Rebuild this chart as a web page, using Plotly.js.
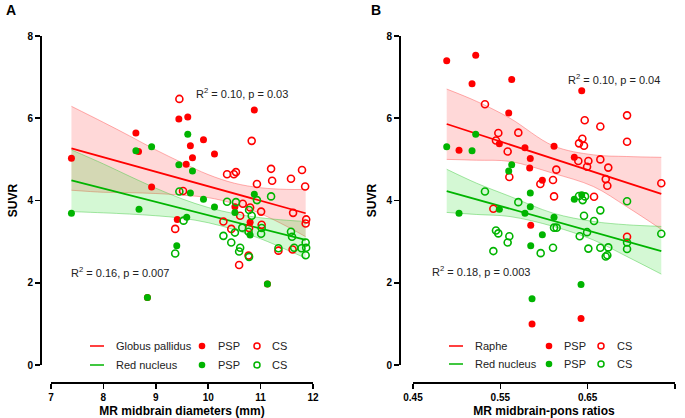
<!DOCTYPE html>
<html><head><meta charset="utf-8">
<script src="https://cdn.plot.ly/plotly-3.0.1.min.js"></script>
<style>html,body{margin:0;padding:0;background:#fff}#chart{width:685px;height:418px}</style>
</head><body><div id="chart"></div>
<script>
// ---------- Panel A data (MR midbrain diameters, mm) ----------
const gpPspX = [7.39, 8.62, 8.67, 8.92, 8.84, 9.44, 9.61, 9.66, 9.70, 9.58, 9.91, 10.12, 10.88, 9.41, 10.51, 10.80, 11.13];
const gpPspY = [5.03, 5.64, 5.19, 4.33, 1.64, 5.98, 6.03, 5.33, 5.04, 4.88, 5.48, 5.13, 6.20, 3.54, 3.85, 3.47, 1.97];
const gpCsX = [9.45, 10.83, 10.36, 10.49, 10.53, 11.20, 11.79, 10.93, 11.22, 11.58, 11.85, 9.52, 10.66, 10.80, 11.01, 10.61, 11.62, 11.87, 11.86, 10.29, 10.44, 11.02, 10.78, 9.37, 10.59, 10.77, 11.34, 11.61];
const gpCsY = [6.47, 5.45, 4.64, 4.64, 4.69, 4.77, 4.74, 4.40, 4.48, 4.53, 4.34, 4.23, 3.92, 3.83, 3.73, 3.63, 3.70, 3.54, 3.44, 3.49, 3.31, 3.41, 3.33, 3.31, 2.43, 2.66, 2.78, 2.81];
const rnPspX = [7.39, 8.62, 8.92, 8.68, 8.84, 9.61, 9.44, 9.70, 9.66, 9.91, 10.12, 9.59, 9.40, 10.51, 10.88, 10.80, 11.13];
const rnPspY = [3.69, 5.21, 5.31, 3.79, 1.64, 5.61, 4.87, 4.72, 4.18, 4.03, 3.84, 3.59, 2.90, 3.71, 4.15, 3.16, 1.97];
const rnCsX = [9.45, 9.53, 9.37, 10.36, 10.53, 10.78, 10.93, 11.20, 10.83, 10.65, 10.51, 10.77, 11.02, 11.01, 10.29, 10.44, 10.61, 10.59, 10.78, 11.58, 11.60, 11.34, 11.64, 11.78, 11.86, 11.87, 11.86];
const rnCsY = [4.22, 3.51, 2.71, 3.97, 3.96, 3.77, 4.01, 4.10, 3.63, 3.34, 3.22, 3.24, 3.33, 3.19, 3.14, 2.98, 2.85, 2.76, 2.63, 3.24, 3.12, 2.84, 2.85, 2.84, 2.98, 2.85, 2.67];
// fit lines and 95% confidence bands
const aFitX = [7.39, 11.86];
const aGpFitY = [5.27, 3.69];
const aRnFitY = [4.49, 3.04];
const aBandX = [7.39, 8, 8.5, 9, 9.5, 10, 10.5, 11, 11.5, 11.86];
const aGpUpper = [6.29, 5.90, 5.57, 5.23, 4.92, 4.63, 4.42, 4.31, 4.27, 4.27];
const aGpLower = [4.25, 4.20, 4.19, 4.17, 4.13, 4.07, 3.92, 3.68, 3.37, 3.12];
const aRnUpper = [5.23, 4.89, 4.59, 4.30, 4.04, 3.83, 3.68, 3.58, 3.52, 3.49];
const aRnLower = [3.73, 3.70, 3.67, 3.63, 3.57, 3.46, 3.29, 3.07, 2.80, 2.60];

// ---------- Panel B data (MR midbrain-pons ratios) ----------
const raPspX = [0.4886, 0.5218, 0.5176, 0.5630, 0.6432, 0.5596, 0.5027, 0.5489, 0.5782, 0.6115, 0.6347, 0.5843, 0.5836, 0.5981, 0.5848, 0.6424, 0.5863];
const raPspY = [7.40, 7.53, 6.84, 6.94, 6.67, 6.13, 5.22, 5.38, 5.28, 5.32, 5.05, 5.02, 4.79, 4.49, 3.40, 1.13, 1.00];
const raCsX = [0.5324, 0.5477, 0.5450, 0.5706, 0.5584, 0.6466, 0.6645, 0.6951, 0.6951, 0.6439, 0.6401, 0.6458, 0.6393, 0.6508, 0.6493, 0.6645, 0.6736, 0.6707, 0.6725, 0.7343, 0.6141, 0.6103, 0.5958, 0.5603, 0.6115, 0.6573, 0.5420, 0.6951];
const raCsY = [6.34, 5.64, 5.46, 5.65, 5.19, 5.95, 5.80, 6.07, 5.43, 5.50, 5.39, 5.33, 4.96, 4.96, 4.82, 5.00, 4.80, 4.52, 4.36, 4.42, 4.75, 4.50, 4.40, 4.57, 4.10, 4.09, 3.80, 3.12];
const rbPspX = [0.4886, 0.5218, 0.5176, 0.5630, 0.5596, 0.5027, 0.5489, 0.5782, 0.5843, 0.5843, 0.6115, 0.6347, 0.6432, 0.5981, 0.5848, 0.6424, 0.5863];
const rbPspY = [5.31, 5.61, 5.21, 4.87, 4.72, 3.69, 3.79, 3.69, 4.18, 3.85, 3.59, 4.03, 4.14, 3.17, 2.90, 1.96, 1.61];
const rbCsX = [0.5324, 0.5706, 0.5450, 0.5477, 0.5603, 0.5584, 0.5420, 0.5962, 0.6103, 0.6115, 0.6145, 0.6401, 0.6443, 0.6470, 0.6458, 0.6409, 0.6493, 0.6645, 0.6573, 0.6508, 0.6645, 0.6736, 0.6707, 0.6725, 0.6951, 0.6951, 0.6951, 0.7343];
const rbCsY = [4.22, 3.96, 3.27, 3.20, 3.13, 2.98, 2.77, 2.72, 2.85, 3.34, 3.34, 4.11, 4.01, 4.10, 3.63, 3.13, 3.23, 3.76, 3.50, 2.83, 2.85, 2.86, 2.64, 2.67, 3.98, 2.98, 2.82, 3.19];
const bFitX = [0.4886, 0.7343];
const bRaFitY = [5.86, 4.16];
const bRnFitY = [4.23, 2.77];
const bBandX = [0.4886, 0.5229, 0.5611, 0.6107, 0.6565, 0.6947, 0.7343];
const bRaUpper = [6.71, 6.41, 6.00, 5.33, 5.11, 5.07, 5.05];
const bRaLower = [5.00, 4.98, 4.95, 4.66, 4.34, 3.85, 3.30];
const bRnUpper = [4.76, 4.42, 4.10, 3.69, 3.49, 3.41, 3.37];
const bRnLower = [3.71, 3.66, 3.61, 3.37, 3.04, 2.64, 2.21];

// ---------- texts ----------
const aXTitle = 'MR midbrain diameters (mm)';
const bXTitle = 'MR midbrain-pons ratios';
const yTitle = 'SUVR';
const aXTicks = [7, 8, 9, 10, 11, 12];
const bXTicks = [0.45, 0.55, 0.65, 0.75];
const bXTickText = ['0.45', '0.55', '0.65', '0.75'];
const yTicks = [0, 2, 4, 6, 8];

const RED = '#ff0000', GREEN = '#00b400';
const RED_FILL = 'rgba(255,60,60,0.20)', RED_EDGE = 'rgba(255,80,80,0.45)';
const GREEN_FILL = 'rgba(40,220,40,0.20)', GREEN_EDGE = 'rgba(60,200,60,0.45)';
const FONT = 'Arial, "Liberation Sans", Helvetica, sans-serif';

function band(x, lo, hi, fill, edge, xa, ya) {
  return [
    {x: x, y: lo, xaxis: xa, yaxis: ya, mode: 'lines', line: {color: edge, width: 1, shape: 'spline'}, hoverinfo: 'skip'},
    {x: x, y: hi, xaxis: xa, yaxis: ya, mode: 'lines', fill: 'tonexty', fillcolor: fill, line: {color: edge, width: 1, shape: 'spline'}, hoverinfo: 'skip'}
  ];
}
function fit(x, y, color, xa, ya) {
  return {x: x, y: y, xaxis: xa, yaxis: ya, mode: 'lines', line: {color: color, width: 1.8}};
}
function pts(x, y, color, open, xa, ya) {
  return {x: x, y: y, xaxis: xa, yaxis: ya, mode: 'markers',
    marker: open ? {symbol: 'circle-open', size: 7, color: color, line: {color: color, width: 1.6}}
                 : {symbol: 'circle', size: 7, color: color, line: {width: 0}}};
}

const data = [].concat(
  band(aBandX, aGpLower, aGpUpper, RED_FILL, RED_EDGE, 'x', 'y'),
  band(aBandX, aRnLower, aRnUpper, GREEN_FILL, GREEN_EDGE, 'x', 'y'),
  [fit(aFitX, aGpFitY, RED, 'x', 'y'), fit(aFitX, aRnFitY, GREEN, 'x', 'y'),
   pts(gpPspX, gpPspY, RED, false, 'x', 'y'), pts(gpCsX, gpCsY, RED, true, 'x', 'y'),
   pts(rnPspX, rnPspY, GREEN, false, 'x', 'y'), pts(rnCsX, rnCsY, GREEN, true, 'x', 'y')],
  band(bBandX, bRaLower, bRaUpper, RED_FILL, RED_EDGE, 'x2', 'y2'),
  band(bBandX, bRnLower, bRnUpper, GREEN_FILL, GREEN_EDGE, 'x2', 'y2'),
  [fit(bFitX, bRaFitY, RED, 'x2', 'y2'), fit(bFitX, bRnFitY, GREEN, 'x2', 'y2'),
   pts(raPspX, raPspY, RED, false, 'x2', 'y2'), pts(raCsX, raCsY, RED, true, 'x2', 'y2'),
   pts(rbPspX, rbPspY, GREEN, false, 'x2', 'y2'), pts(rbCsX, rbCsY, GREEN, true, 'x2', 'y2')]
);

// pixel helpers for paper-placed decorations
const W = 685, TOP = 36, BOT = 382;
const px = v => v / W;
const py = v => (BOT - v) / (BOT - TOP);

const axBase = {
  showline: true, linecolor: '#000', linewidth: 1.6, ticks: 'outside', ticklen: 5, tickwidth: 1.6, tickcolor: '#000',
  showgrid: false, zeroline: false, fixedrange: true,
  tickfont: {family: FONT, size: 10, color: '#000', weight: 'bold'}
};
const layout = {
  width: 685, height: 418, margin: {l: 0, r: 0, t: TOP, b: 418 - BOT},
  paper_bgcolor: '#fff', plot_bgcolor: 'rgba(0,0,0,0)', showlegend: false,
  font: {family: FONT, color: '#000'},
  xaxis: Object.assign({}, axBase, {domain: [px(51), px(313)], range: [7, 12], tickvals: aXTicks, anchor: 'free', position: 0,
    title: {text: aXTitle, font: {family: FONT, size: 12, weight: 'bold'}, standoff: 6}}),
  yaxis: Object.assign({}, axBase, {domain: [py(365), 1], range: [0, 8], tickvals: yTicks, anchor: 'free', position: px(40),
    title: {text: yTitle, font: {family: FONT, size: 12, weight: 'bold'}, standoff: 5}}),
  xaxis2: Object.assign({}, axBase, {domain: [px(413), px(675)], range: [0.45, 0.75], tickvals: bXTicks, ticktext: bXTickText, anchor: 'free', position: 0,
    title: {text: bXTitle, font: {family: FONT, size: 12, weight: 'bold'}, standoff: 6}}),
  yaxis2: Object.assign({}, axBase, {domain: [py(365), 1], range: [0, 8], tickvals: yTicks, anchor: 'free', position: px(399),
    title: {text: yTitle, font: {family: FONT, size: 12, weight: 'bold'}, standoff: 5}}),
  annotations: [],
  shapes: []
};

const ann = layout.annotations, shp = layout.shapes;
function stat(text, x, y, xr, yr) {
  ann.push({text: text, x: x, y: y, xref: xr, yref: yr, showarrow: false, xanchor: 'center', yanchor: 'middle',
    font: {family: FONT, size: 11, color: '#222'}});
}
stat('R<sup>2</sup> = 0.10, p = 0.03', 10.65, 6.62, 'x', 'y');
stat('R<sup>2</sup> = 0.16, p = 0.007', 8.32, 2.25, 'x', 'y');
stat('R<sup>2</sup> = 0.10, p = 0.04', 0.6796, 6.95, 'x2', 'y2');
stat('R<sup>2</sup> = 0.18, p = 0.003', 0.5284, 2.29, 'x2', 'y2');

// panel letters
ann.push({text: 'A', x: px(4), y: py(10), xref: 'paper', yref: 'paper', showarrow: false, xanchor: 'left', yanchor: 'middle', font: {family: FONT, size: 14, weight: 'bold'}});
ann.push({text: 'B', x: px(369), y: py(10), xref: 'paper', yref: 'paper', showarrow: false, xanchor: 'left', yanchor: 'middle', font: {family: FONT, size: 14, weight: 'bold'}});

// legends
function legendRow(y, x0, label, color, dotX, pspX, ringX, csX) {
  shp.push({type: 'line', xref: 'paper', yref: 'paper', x0: px(x0), x1: px(x0 + 14), y0: py(y), y1: py(y), line: {color: color, width: 1.5}});
  ann.push({text: label, x: px(x0 + 24), y: py(y), xref: 'paper', yref: 'paper', showarrow: false, xanchor: 'left', yanchor: 'middle', font: {family: FONT, size: 11, color: '#222'}});
  shp.push({type: 'circle', xref: 'paper', yref: 'paper', xsizemode: 'pixel', ysizemode: 'pixel', xanchor: px(dotX), yanchor: py(y), x0: -3.3, x1: 3.3, y0: -3.3, y1: 3.3, fillcolor: color, line: {width: 0}});
  ann.push({text: 'PSP', x: px(pspX), y: py(y), xref: 'paper', yref: 'paper', showarrow: false, xanchor: 'left', yanchor: 'middle', font: {family: FONT, size: 11, color: '#222'}});
  shp.push({type: 'circle', xref: 'paper', yref: 'paper', xsizemode: 'pixel', ysizemode: 'pixel', xanchor: px(ringX), yanchor: py(y), x0: -3, x1: 3, y0: -3, y1: 3, fillcolor: 'rgba(0,0,0,0)', line: {color: color, width: 1.5}});
  ann.push({text: 'CS', x: px(csX), y: py(y), xref: 'paper', yref: 'paper', showarrow: false, xanchor: 'left', yanchor: 'middle', font: {family: FONT, size: 11, color: '#222'}});
}
legendRow(346, 90, 'Globus pallidus', RED, 202, 216, 257, 270);
legendRow(365, 90, 'Red nucleus', GREEN, 202, 216, 257, 270);
legendRow(346, 449, 'Raphe', RED, 549, 562, 601, 615);
legendRow(364, 449, 'Red nucleus', GREEN, 549, 562, 601, 615);

Plotly.newPlot('chart', data, layout, {staticPlot: true, displayModeBar: false});
</script>
</body></html>
